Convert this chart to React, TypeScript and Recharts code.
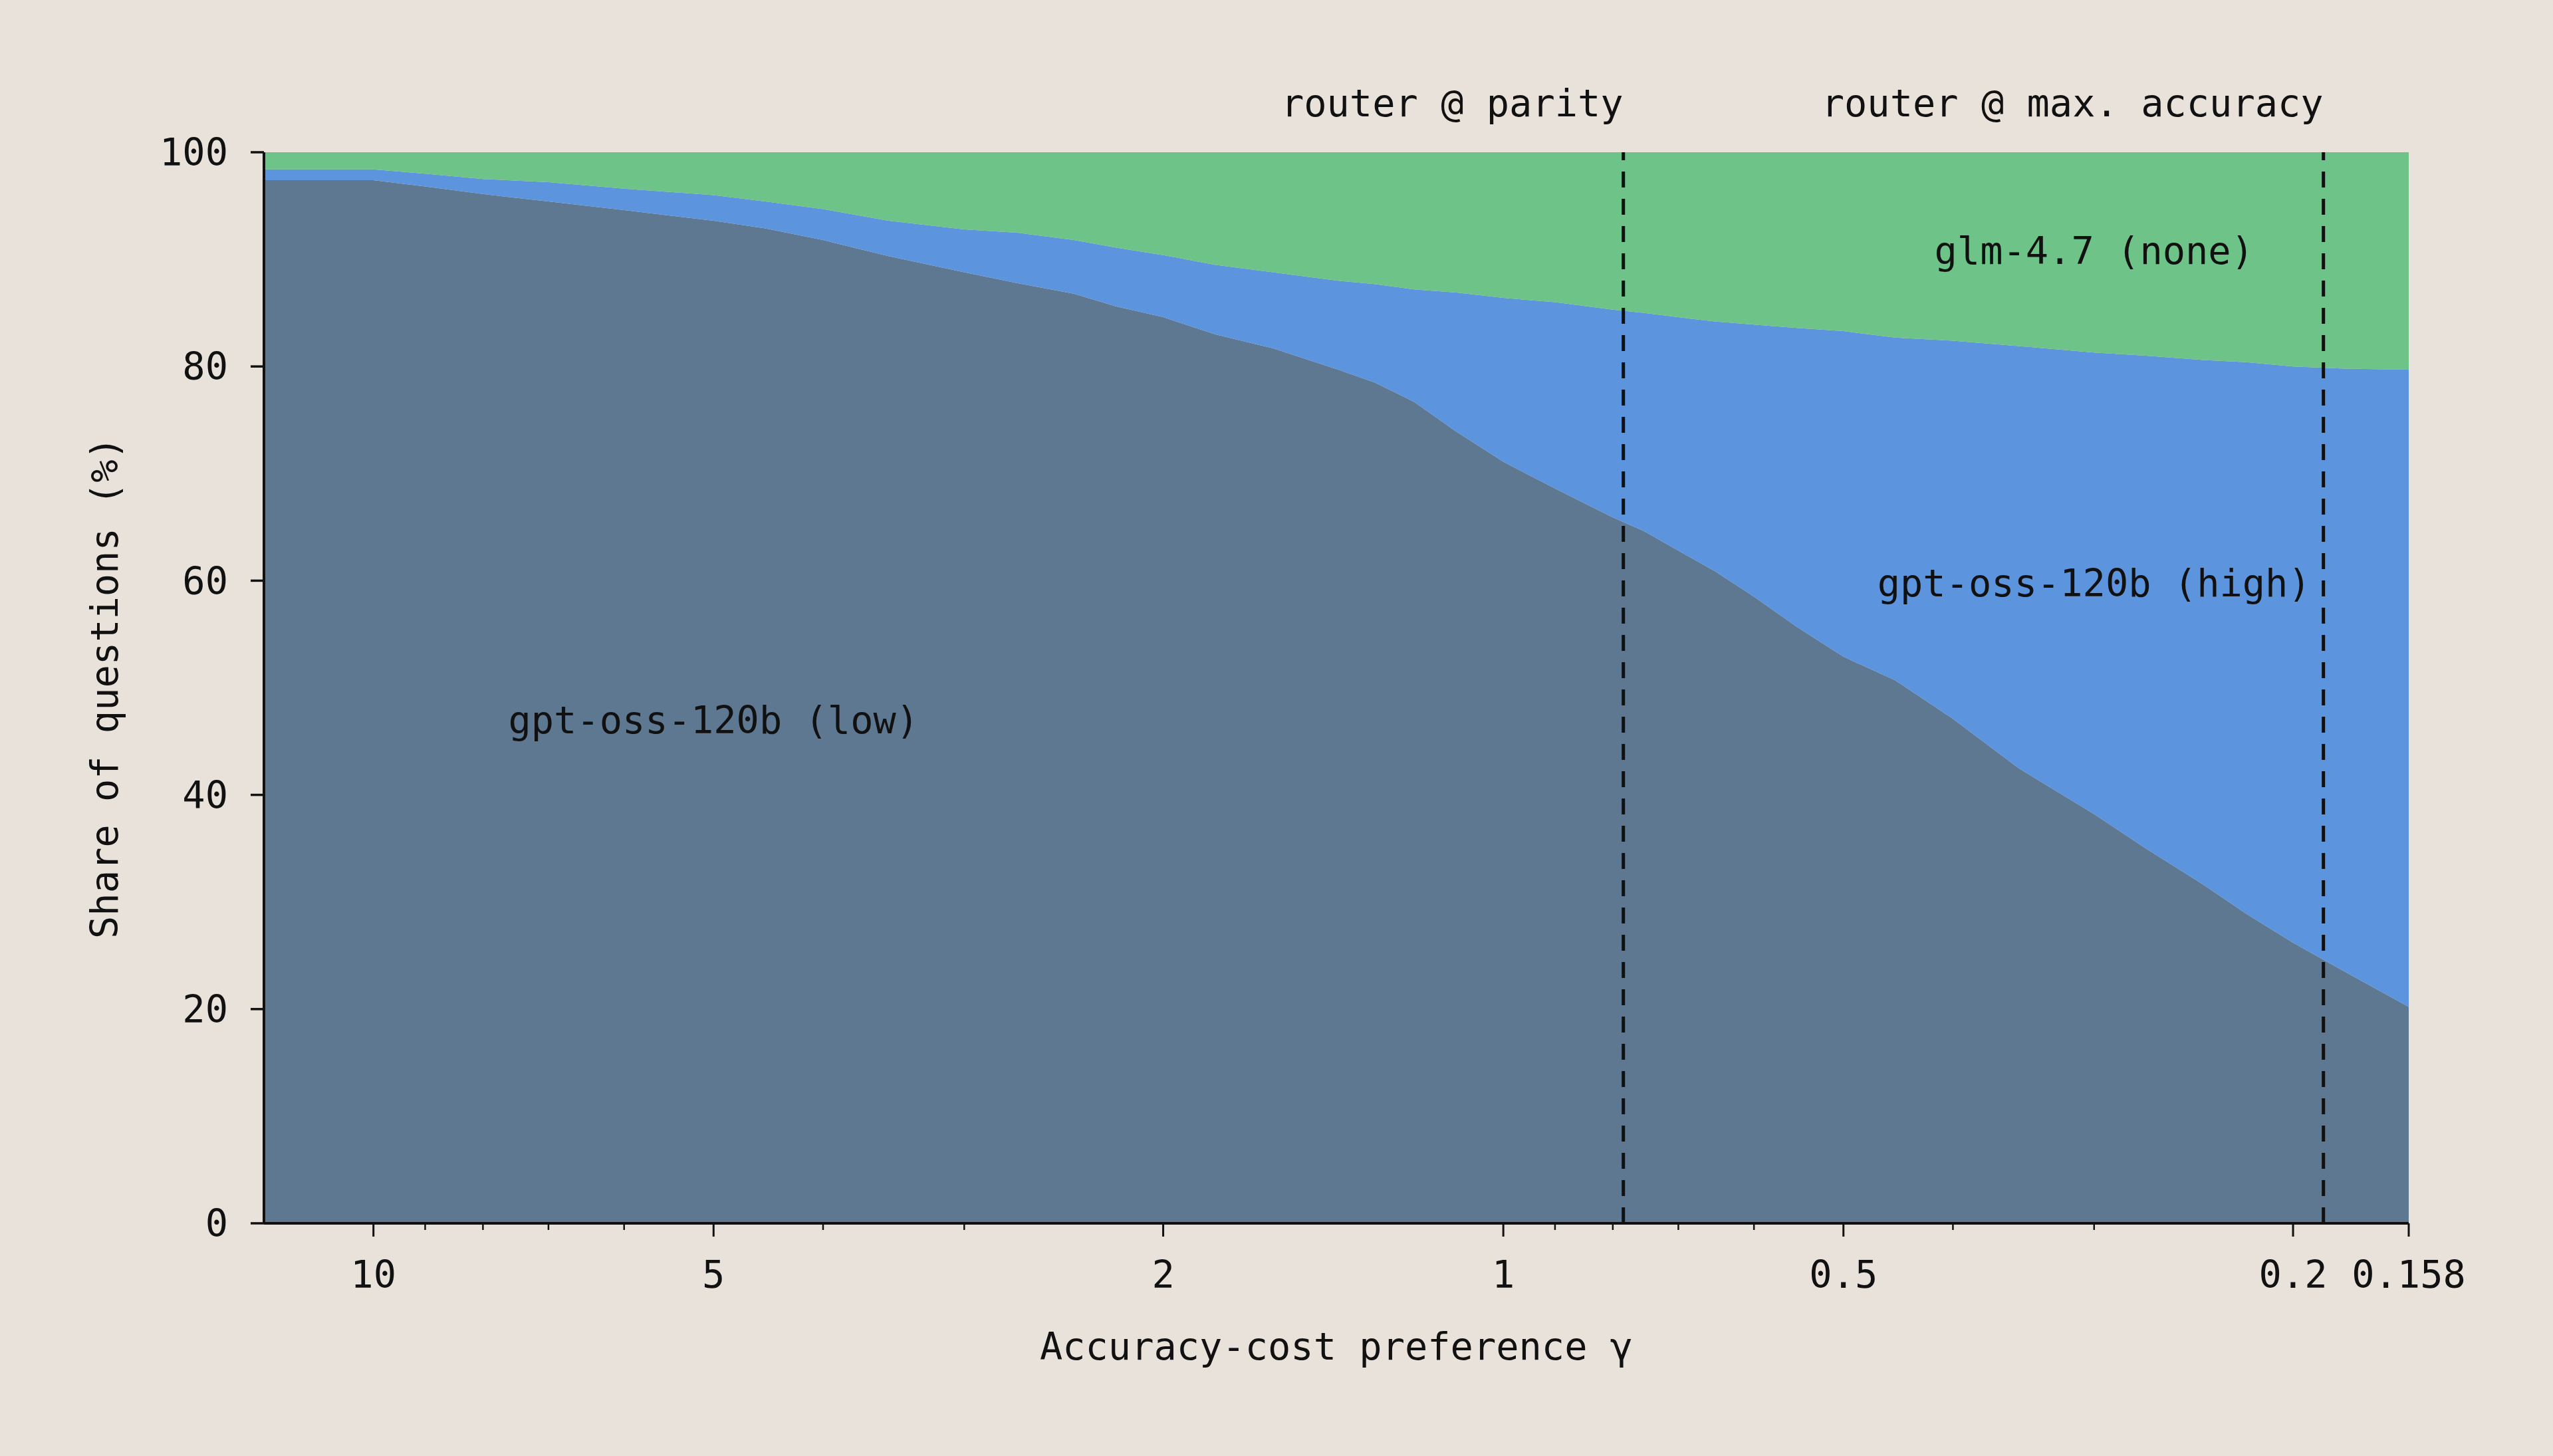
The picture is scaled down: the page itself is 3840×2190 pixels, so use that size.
import { AreaChart, Area, XAxis, YAxis, ReferenceLine, ReferenceDot } from 'recharts';

// accuracy-cost preference (gamma), read left to right on the reversed log axis
const gammas = [
    12.5, 10, 9, 8, 7, 6, 5, 4.5, 4, 3.5, 3, 2.7, 2.4, 2.2, 2, 1.8, 1.6, 1.4, 1.3, 1.2,
    1.1, 1, 0.9, 0.8, 0.75, 0.7, 0.65, 0.6, 0.55, 0.5, 0.45, 0.4, 0.35, 0.3, 0.27, 0.24,
    0.22, 0.2, 0.18, 0.158,
];

// share of questions (%) routed to each model
const lowShare = [
    97.4, 97.4, 96.8, 96.1, 95.4, 94.6, 93.6, 92.9, 91.8, 90.3, 88.8, 87.8, 86.8, 85.6, 84.6, 83.0, 81.7, 79.7, 78.5, 76.7,
    73.9, 71.1, 68.6, 65.9, 64.6, 62.8, 60.9, 58.5, 55.7, 52.9, 50.7, 47.1, 42.5, 38.2, 35.0, 31.6,
    28.9, 26.2, 23.5, 20.2,
];
const highShare = [
    1.0, 1.0, 1.2, 1.4, 1.8, 2.0, 2.4, 2.5, 2.9, 3.3, 4.0, 4.7, 5.0, 5.5, 5.8, 6.5, 7.1, 8.3, 9.2, 10.5,
    13.0, 15.3, 17.4, 19.4, 20.4, 21.8, 23.3, 25.4, 27.9, 30.4, 32.0, 35.3, 39.4, 43.1, 46.0, 49.0,
    51.5, 53.8, 56.3, 59.5,
];
const glmShare = [
    1.6, 1.6, 2.0, 2.5, 2.8, 3.4, 4.0, 4.6, 5.3, 6.4, 7.2, 7.5, 8.2, 8.9, 9.6, 10.5, 11.2, 12.0, 12.3, 12.8,
    13.1, 13.6, 14.0, 14.7, 15.0, 15.4, 15.8, 16.1, 16.4, 16.7, 17.3, 17.6, 18.1, 18.7, 19.0, 19.4,
    19.6, 20.0, 20.2, 20.3,
];

const majorTicks = [10, 5, 2, 1, 0.5, 0.2, 0.158];
const minorTicks = [9, 8, 7, 6, 4, 3, 0.9, 0.8, 0.7, 0.6, 0.4, 0.3];
const yTicks = [0, 20, 40, 60, 80, 100];

const parityGamma = 0.783;
const maxAccuracyGamma = 0.188;

const data = gammas.map((g, i) => ({
    gamma: g,
    low: lowShare[i],
    high: highShare[i],
    glm: glmShare[i],
}));

const WIDTH = 3840;
const HEIGHT = 2190;
const PLOT_LEFT = 397;
const PLOT_RIGHT = 3623;
const PLOT_TOP = 229;
const PLOT_BOTTOM = 1840;
const Y_AXIS_W = 150;
const X_AXIS_H = 150;

const BG = '#e8e2db';
const INK = '#111111';
const FONT = '"DejaVu Sans Mono", "Liberation Mono", monospace';
const FONT_SIZE = 57;

function GammaTick(props: any) {
    const { x, y, payload } = props;
    const v = payload.value;
    const major = majorTicks.includes(v);
    return (
        <g>
            <line x1={x} x2={x} y1={y} y2={y + (major ? 20 : 10)} stroke={INK} strokeWidth={major ? 3 : 2.5} />
            {major && (
                <text x={x} y={y + 97} textAnchor="middle" fill={INK} fontFamily={FONT} fontSize={FONT_SIZE}>
                    {String(v)}
                </text>
            )}
        </g>
    );
}

function RouterLabel(props: any) {
    const { viewBox, text } = props;
    return (
        <text x={viewBox.x} y={viewBox.y - 54} textAnchor="end" fill={INK} fontFamily={FONT} fontSize={FONT_SIZE}>
            {text}
        </text>
    );
}

function AreaText(props: any) {
    const { cx, cy, text } = props;
    return (
        <text x={cx} y={cy} textAnchor="middle" dominantBaseline="central" fill={INK} fontFamily={FONT} fontSize={FONT_SIZE}>
            {text}
        </text>
    );
}

function YTitle() {
    const cx = 157;
    const cy = (PLOT_TOP + PLOT_BOTTOM) / 2;
    return (
        <text
            x={cx}
            y={cy}
            transform={`rotate(-90 ${cx} ${cy})`}
            textAnchor="middle"
            dominantBaseline="central"
            fill={INK}
            fontFamily={FONT}
            fontSize={FONT_SIZE}
        >
            Share of questions (%)
        </text>
    );
}

function XTitle() {
    return (
        <text
            x={(PLOT_LEFT + PLOT_RIGHT) / 2}
            y={2045}
            textAnchor="middle"
            fill={INK}
            fontFamily={FONT}
            fontSize={FONT_SIZE}
        >
            Accuracy-cost preference γ
        </text>
    );
}

export default function App() {
    return (
        <div style={{ position: 'absolute', left: 0, top: 0, width: WIDTH, height: HEIGHT, background: BG }}>
            <AreaChart
                width={WIDTH}
                height={HEIGHT}
                data={data}
                margin={{
                    top: PLOT_TOP,
                    right: WIDTH - PLOT_RIGHT,
                    bottom: HEIGHT - PLOT_BOTTOM - X_AXIS_H,
                    left: PLOT_LEFT - Y_AXIS_W,
                }}
            >
                <XAxis
                    dataKey="gamma"
                    type="number"
                    scale="log"
                    domain={[0.158, 12.5]}
                    allowDataOverflow
                    reversed
                    ticks={[...majorTicks, ...minorTicks].sort((a, b) => b - a)}
                    interval={0}
                    height={X_AXIS_H}
                    tickSize={0}
                    tickMargin={0}
                    tickLine={false}
                    tick={<GammaTick />}
                    axisLine={{ stroke: INK, strokeWidth: 4 }}
                    label={<XTitle />}
                />
                <YAxis
                    type="number"
                    domain={[0, 100]}
                    ticks={yTicks}
                    width={Y_AXIS_W}
                    tickSize={20}
                    tickMargin={34}
                    tickLine={{ stroke: INK, strokeWidth: 3.5 }}
                    axisLine={{ stroke: INK, strokeWidth: 4 }}
                    tick={{ fill: INK, fontFamily: FONT, fontSize: FONT_SIZE }}
                    label={<YTitle />}
                />
                <Area
                    type="linear"
                    dataKey="low"
                    stackId="share"
                    stroke="none"
                    fill="#5e7891"
                    fillOpacity={1}
                    isAnimationActive={false}
                />
                <Area
                    type="linear"
                    dataKey="high"
                    stackId="share"
                    stroke="none"
                    fill="#5c94de"
                    fillOpacity={1}
                    isAnimationActive={false}
                />
                <Area
                    type="linear"
                    dataKey="glm"
                    stackId="share"
                    stroke="none"
                    fill="#6ec389"
                    fillOpacity={1}
                    isAnimationActive={false}
                />
                <ReferenceLine
                    x={parityGamma}
                    stroke={INK}
                    strokeWidth={5}
                    strokeDasharray="24 17"
                    label={<RouterLabel text="router @ parity" />}
                />
                <ReferenceLine
                    x={maxAccuracyGamma}
                    stroke={INK}
                    strokeWidth={5}
                    strokeDasharray="24 17"
                    label={<RouterLabel text="router @ max. accuracy" />}
                />
                <ReferenceDot x={0.3} y={90.8} r={1} shape={(p: any) => <AreaText {...p} text="glm-4.7 (none)" />} />
                <ReferenceDot x={0.3} y={59.8} r={1} shape={(p: any) => <AreaText {...p} text="gpt-oss-120b (high)" />} />
                <ReferenceDot x={5} y={47} r={1} shape={(p: any) => <AreaText {...p} text="gpt-oss-120b (low)" />} />
            </AreaChart>
        </div>
    );
}
